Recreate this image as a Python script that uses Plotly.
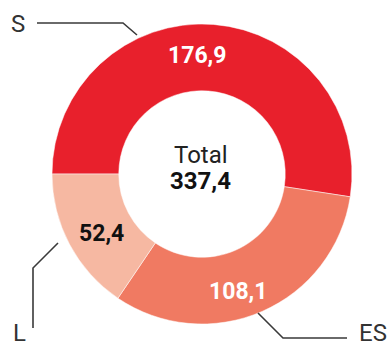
import plotly.graph_objects as go

# Segment data
categories = ["S", "ES", "L"]
values = [176.9, 108.1, 52.4]
colors = ["#E8202C", "#F07A62", "#F6B8A2"]
value_text_colors = ["#FFFFFF", "#FFFFFF", "#111111"]
total_label = "Total"

W, H = 390, 347


def fmt(v):
    return f"{v:.1f}".replace(".", ",")


def px(x, y):
    """Pixel position -> paper coordinates."""
    return x / W, 1 - y / H


fig = go.Figure(
    go.Pie(
        labels=categories,
        values=values,
        hole=0.555,
        sort=False,
        direction="clockwise",
        rotation=270,
        marker=dict(colors=colors, line=dict(color="white", width=0.5)),
        textinfo="none",
        hoverinfo="label+value",
        showlegend=False,
        domain=dict(x=[52 / W, 352 / W], y=[(H - 324) / H, (H - 24) / H]),
    )
)

# Value labels placed inside each ring segment
value_pos = [(197, 56), (238, 291), (101, 233)]
annotations = []
for v, (x, y), c in zip(values, value_pos, value_text_colors):
    ax, ay = px(x, y)
    annotations.append(dict(
        x=ax, y=ay, xref="paper", yref="paper", showarrow=False,
        text=f"<b>{fmt(v)}</b>",
        font=dict(family="Roboto", size=23, color=c),
        xanchor="center", yanchor="middle",
    ))

# Centre total
tx, ty = px(201, 155)
annotations.append(dict(
    x=tx, y=ty, xref="paper", yref="paper", showarrow=False,
    text=total_label, font=dict(family="Roboto", size=24, color="#222222"),
    xanchor="center", yanchor="middle",
))
tx, ty = px(201, 181)
annotations.append(dict(
    x=tx, y=ty, xref="paper", yref="paper", showarrow=False,
    text=f"<b>{fmt(sum(values))}</b>",
    font=dict(family="Roboto", size=24, color="#111111"),
    xanchor="center", yanchor="middle",
))

# Category labels outside the ring
cat_pos = {"S": (18, 24), "ES": (373, 333), "L": (19, 333)}
for cat in categories:
    x, y = cat_pos[cat]
    ax, ay = px(x, y)
    annotations.append(dict(
        x=ax, y=ay, xref="paper", yref="paper", showarrow=False,
        text=cat, font=dict(family="Roboto", size=24, color="#333333"),
        xanchor="center", yanchor="middle",
    ))

# Leader lines from labels to the ring
leaders = {
    "S": [(37, 23), (123, 23), (137, 35)],
    "ES": [(258, 313), (283, 338), (347, 338)],
    "L": [(33, 328), (33, 268), (58, 243)],
}
shapes = []
for pts in leaders.values():
    path = ""
    for i, (x, y) in enumerate(pts):
        ax, ay = px(x, y)
        path += ("M" if i == 0 else " L") + f" {ax} {ay}"
    shapes.append(dict(
        type="path", path=path, xref="paper", yref="paper",
        line=dict(color="#3a3a3a", width=1.6),
    ))

fig.update_layout(
    width=W, height=H,
    margin=dict(l=0, r=0, t=0, b=0),
    paper_bgcolor="white", plot_bgcolor="white",
    annotations=annotations,
    shapes=shapes,
)

fig.write_html("out.html")
